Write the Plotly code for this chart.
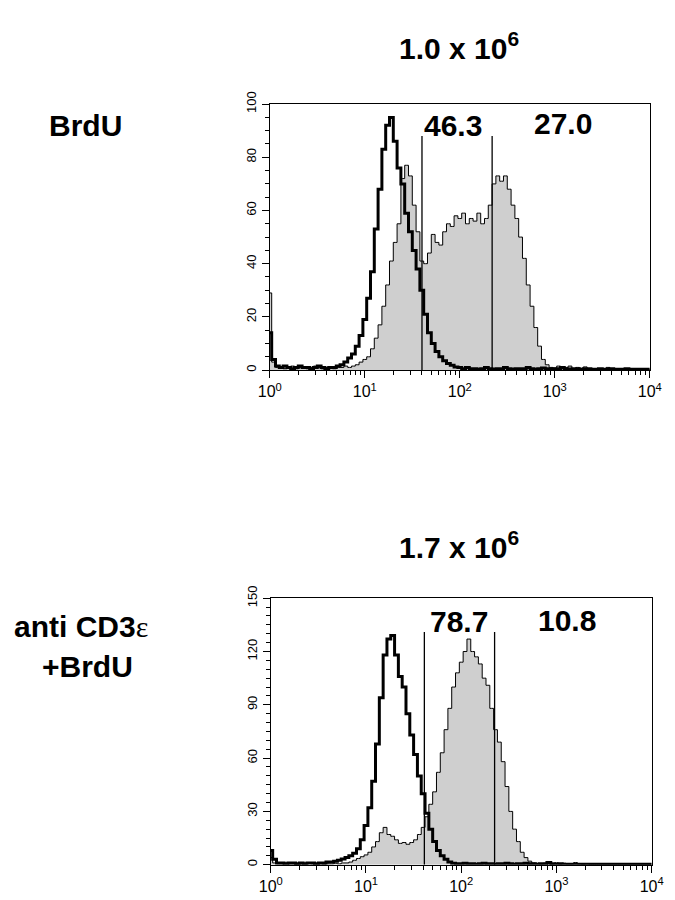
import numpy as np
import plotly.graph_objects as go

# histogram channels, log10 of fluorescence from 10^0 to 10^4
log_channel = np.round(np.arange(0, 4.0001, 0.04), 2)
channel = 10 ** log_channel

# top panel (BrdU): control = thick line, BrdU stained = filled grey
ctrl_brdu = [14, 4, 1.5,
             1, 1.5, 1, 0.5, 1, 1.5, 1, 1, 0.5, 1, 1.5, 1, 0.5, 1, 1, 1.5,
             2, 3, 4.5, 6, 9, 13, 19, 27, 37, 53, 68, 83, 92, 95, 86, 76, 70,
             59, 52, 45, 38, 30, 21, 14, 10, 7, 5, 3.5, 2.5, 1.8, 1.2, 1,
             0.5, 1, 0.5, 0.5, 0.3, 0.5, 1, 0.5, 0.3, 0.5,
             0.5, 1, 0.5, 0.3, 0.5, 0.5, 0.5, 1, 0.5, 0.3,
             0.5, 0.8, 0.5, 0.3, 0.5, 0.5, 1, 0.5, 0.3, 0.5,
             0.5, 0.3, 0.5, 0.5, 0.3, 0.3, 0.5, 0.3, 0.3, 0.5,
             0.3, 0.3, 0.3, 0.5, 0.3, 0.3, 0.3, 0.3, 0.3, 0.3]
brdu_brdu = [29, 3, 1,
             1, 0.5, 1, 1.5, 0.5, 1, 1, 0.5, 1, 1.5, 1, 0.5, 1, 1, 0.5, 1, 1, 1.5, 1, 1.5,
             2, 3, 4, 5, 8, 12, 17, 24, 32, 41, 48, 55, 72, 77, 73, 62, 52, 41,
             40, 44, 51, 48, 47, 52, 55, 54, 58, 57, 59, 55, 57, 56, 59, 55, 57,
             62, 70, 73, 71, 73, 68, 62, 57, 50, 42, 32, 24, 16, 9, 4, 2, 1,
             0.8, 1.5, 0.5, 1, 1.5, 0.5, 1, 0.5, 1.2, 0.5,
             0.3, 0.5, 0.3, 0.3, 1.0, 0.3, 0.3, 0.3, 0.3, 0.3,
             0.3, 0.3, 0.3, 0.3, 0.3, 0.3]

# bottom panel (anti CD3e + BrdU)
ctrl_cd3 = [8, 3, 1,
            1, 0.5, 1, 1, 0.5, 1, 0.5, 1, 1, 0.5, 1, 1, 1.5,
            1.5, 2, 2.5, 3.2, 4, 5, 6.5, 9, 14, 22, 32, 47, 68, 94, 118, 127,
            129, 118, 106, 100, 85, 73, 62, 50, 40, 29, 20, 13, 8, 5, 3, 1.5, 0.8,
            0.5, 0.5, 0.8, 0.5, 0.5, 0.3, 0.5, 0.8, 0.5, 0.5,
            0.3, 0.5, 0.5, 0.8, 0.5, 0.3, 0.5, 0.5, 0.8, 0.5,
            0.5, 0.3, 0.5, 0.5, 1.2, 0.5, 0.3, 0.5, 0.3, 0.3,
            0.3, 0.3, 0.3, 0.3, 0.3, 0.3, 0.3, 0.3, 0.3, 0.3,
            0.3, 0.3, 0.3, 0.3, 0.3, 0.3, 0.3, 0.3, 0.3, 0.3,
            0.3, 0.3]
brdu_cd3 = [4, 1,
            0.5, 0.5, 0.8, 0.5, 0.5, 0.3, 0.5, 0.5, 0.8, 0.5, 0.5, 0.5, 0.3, 0.5,
            0.5, 0.8, 0.5, 1, 1,
            1.5, 2.5, 3.5, 4.5, 5.5, 7, 10, 13, 18, 21, 17, 16, 14, 12, 12.5,
            11.5, 12.5, 14, 17, 21, 27, 34, 41, 52, 63, 76, 88, 100, 108, 114,
            120, 127, 120, 117, 113, 105, 101, 88, 76, 69, 58, 44, 30, 20, 13,
            7, 4, 2, 1, 0.7,
            0.5, 0.8, 0.5, 0.5, 1, 0.5, 0.8, 0.5, 0.5, 1.2,
            0.5, 0.3, 0.5, 0.3, 0.3, 0.3, 0.3, 0.3, 0.3, 0.3,
            0.3, 0.3, 0.3, 0.3, 0.3, 0.3, 0.3, 0.3, 0.3, 0.3]

gates_brdu = [40, 219]
gates_cd3 = [41, 224]
gate_top_brdu = 88
gate_top_cd3 = 131
pct_brdu = ['46.3', '27.0']
pct_cd3 = ['78.7', '10.8']
cell_counts = ['1.0 x 10<sup>6</sup>', '1.7 x 10<sup>6</sup>']
row_labels = ['BrdU',
              'anti CD3<span style="font-family:\'Liberation Serif\';font-weight:normal">ε</span>',
              '+BrdU']

W, H = 675, 900
OFF = 8  # the page body adds an 8px margin
FONT = 'Liberation Sans, Arial, sans-serif'


def fx(px):
    return (px - OFF) / W


def fy(py):
    return 1 - (py - OFF) / H


fig = go.Figure()

panels = [
    dict(sample=brdu_brdu, ctrl=ctrl_brdu, gates=gates_brdu, gtop=gate_top_brdu,
         xa='x', ya='y'),
    dict(sample=brdu_cd3, ctrl=ctrl_cd3, gates=gates_cd3, gtop=gate_top_cd3,
         xa='x2', ya='y2'),
]

for p in panels:
    fig.add_trace(go.Scatter(x=channel, y=p['sample'], mode='lines',
                             line=dict(color='black', width=1, shape='hvh'),
                             fill='tozeroy', fillcolor='#cfcfcf',
                             xaxis=p['xa'], yaxis=p['ya'], showlegend=False))
    fig.add_trace(go.Scatter(x=channel, y=p['ctrl'], mode='lines',
                             line=dict(color='black', width=3, shape='hvh'),
                             xaxis=p['xa'], yaxis=p['ya'], showlegend=False))
    for g in p['gates']:
        fig.add_trace(go.Scatter(x=[g, g], y=[0, p['gtop']], mode='lines',
                                 line=dict(color='black', width=1.3),
                                 xaxis=p['xa'], yaxis=p['ya'], showlegend=False))

minor_x = [k * 10 ** d for d in range(4) for k in range(2, 10)]
xtext = ['10<sup>%d</sup>' % d for d in range(5)]
xvals = [10 ** d for d in range(5)]

xcommon = dict(type='log', range=[0, 4], showline=True, linecolor='black',
               linewidth=1.3, mirror=True, ticks='outside', ticklen=7,
               tickwidth=1.3, tickcolor='black', tickmode='array',
               tickvals=xvals, ticktext=xtext, showgrid=False, zeroline=False,
               minor=dict(tickmode='array', tickvals=minor_x, ticks='outside',
                          ticklen=4, tickwidth=1.2, tickcolor='black'),
               tickfont=dict(family=FONT, size=16, color='black'))
ycommon = dict(showline=True, linecolor='black', linewidth=1.3, mirror=True,
               ticks='outside', ticklen=7, tickwidth=1.3, tickcolor='black',
               tickangle=-90, showgrid=False, zeroline=False,
               tickfont=dict(family=FONT, size=13, color='black'))

fig.update_layout(
    width=W, height=H, margin=dict(l=0, r=0, t=0, b=0),
    paper_bgcolor='white', plot_bgcolor='white',
    xaxis=dict(xcommon, domain=[fx(267), fx(661)], anchor='y'),
    yaxis=dict(ycommon, domain=[fy(363), fy(92.5)], anchor='x',
               range=[0, 100], dtick=20,
               minor=dict(dtick=5, ticks='outside', ticklen=4, tickwidth=1.2,
                          tickcolor='black')),
    xaxis2=dict(xcommon, domain=[fx(268), fx(663)], anchor='y2'),
    yaxis2=dict(ycommon, domain=[fy(866), fy(595)], anchor='x2',
                range=[0, 150], dtick=30,
                minor=dict(dtick=5, ticks='outside', ticklen=4, tickwidth=1.2,
                           tickcolor='black')),
)

big = dict(family=FONT, size=30, color='black')
ann = [
    (cell_counts[0], 463, 33),
    (cell_counts[1], 463, 541),
    (pct_brdu[0], 457, 114),
    (pct_brdu[1], 571, 112),
    (pct_cd3[0], 463, 619),
    (pct_cd3[1], 575, 618),
    (row_labels[0], 76, 114),
    (row_labels[1], 71, 624),
    (row_labels[2], 78, 664),
]
for text, x, y in ann:
    fig.add_annotation(text='<b>%s</b>' % text, x=fx(x), y=fy(y), xref='paper',
                       yref='paper', showarrow=False, xanchor='center',
                       yanchor='middle', font=big)

fig.write_html("out.html")
